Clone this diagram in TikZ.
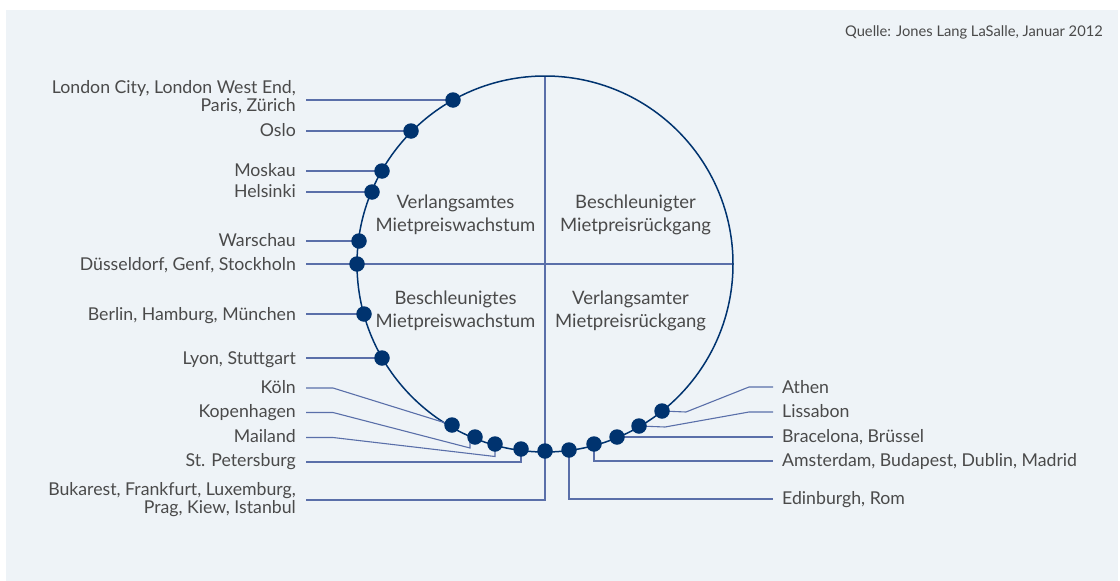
\documentclass[tikz,border=0pt]{standalone}
\usepackage{fontspec}
\setmainfont{Lato}
\definecolor{bgc}{HTML}{EEF3F7}
\definecolor{navy}{HTML}{00336F}
\definecolor{leadc}{HTML}{5A6FA9}
\definecolor{txt}{HTML}{4A4A4A}
\pgfdeclarelayer{back}
\pgfsetlayers{back,main}
\tikzset{
  city/.style={circle, fill=navy, inner sep=0pt, minimum size=15.5pt},
  lead/.style={draw=leadc, line width=1.1pt},
  ring/.style={draw=navy, line width=1.5pt},
  lbl/.style={text=txt, inner sep=0pt, font=\fontsize{17.7}{16}\selectfont},
  lbll/.style={lbl, anchor=base east, align=right},
  lblr/.style={lbl, anchor=base west, align=left},
  quad/.style={text=txt, inner sep=0pt, anchor=base, align=center, font=\fontsize{18.5}{23}\selectfont},
}
\begin{document}
\begin{tikzpicture}[x=1pt,y=-1pt]
\useasboundingbox (0,0) rectangle (1120,581);
\begin{pgfonlayer}{back}
\fill[bgc] (6,10) rectangle (1118,581);
\end{pgfonlayer}

% source
\node[text=txt, inner sep=0pt, anchor=base east, font=\fontsize{14.7}{16}\selectfont] (src) at (1103,36.5) {Quelle: Jones Lang LaSalle, Januar 2012};

% city dots
\node[city] (lon) at (453,100) {};
\node[city] (osl) at (411,131) {};
\node[city] (mos) at (382,171) {};
\node[city] (hel) at (372,192) {};
\node[city] (war) at (359,241) {};
\node[city] (due) at (357,264) {};
\node[city] (ber) at (364,314) {};
\node[city] (lyo) at (382,358) {};
\node[city] (koe) at (452,425) {};
\node[city] (kop) at (475,437) {};
\node[city] (mai) at (495,444) {};
\node[city] (stp) at (521,449) {};
\node[city] (buk) at (545,451) {};
\node[city] (edi) at (569,450) {};
\node[city] (ams) at (594,444) {};
\node[city] (bar) at (617,437) {};
\node[city] (lis) at (639,426) {};
\node[city] (ath) at (662,411) {};

% left labels
\node[lbll] (lonL) at (296,111) {London City, London West End,\\Paris, Zürich};
\node[lbll] (oslL) at (296,136.5) {Oslo};
\node[lbll] (mosL) at (296,176.5) {Moskau};
\node[lbll] (helL) at (296,197) {Helsinki};
\node[lbll] (warL) at (296,246) {Warschau};
\node[lbll] (dueL) at (296,270) {Düsseldorf, Genf, Stockholn};
\node[lbll] (berL) at (296,320) {Berlin, Hamburg, München};
\node[lbll] (lyoL) at (296,364) {Lyon, Stuttgart};
\node[lbll] (koeL) at (296,393) {Köln};
\node[lbll] (kopL) at (296,417) {Kopenhagen};
\node[lbll] (maiL) at (296,442) {Mailand};
\node[lbll] (stpL) at (296,466.5) {St. Petersburg};
\node[lbll] (bukL) at (296,513) {Bukarest, Frankfurt, Luxemburg,\\Prag, Kiew, Istanbul};

% right labels
\node[lblr] (athL) at (782,393) {Athen};
\node[lblr] (lisL) at (782,417.5) {Lissabon};
\node[lblr] (barL) at (782,442) {Bracelona, Brüssel};
\node[lblr] (amsL) at (782,466.5) {Amsterdam, Budapest, Dublin, Madrid};
\node[lblr] (ediL) at (782,504.5) {Edinburgh, Rom};

% quadrant labels
\node[quad] (q1) at (455.5,231) {Verlangsamtes\\Mietpreiswachstum};
\node[quad] (q2) at (635.5,231.5) {Beschleunigter\\Mietpreisrückgang};
\node[quad] (q3) at (455.5,327) {Beschleunigtes\\Mietpreiswachstum};
\node[quad] (q4) at (630.5,327) {Verlangsamter\\Mietpreisrückgang};

% helper coordinates
\coordinate (top) at (545,76);
\coordinate (rgt) at (733,264);
\coordinate (ctr) at (545,264);

\begin{pgfonlayer}{back}
% axes
\draw[lead] (top) -- (buk.center);
\draw[lead] (due.center) -- (rgt);
% ring
\draw[ring] (ctr) circle[radius=188];
% left leaders
\draw[lead] (306,100) -- (lon.center);
\draw[lead] (306,131) -- (osl.center);
\draw[lead] (306,171) -- (mos.center);
\draw[lead] (306,192) -- (hel.center);
\draw[lead] (306,241) -- (war.center);
\draw[lead] (306,264) -- (due.center);
\draw[lead] (306,314) -- (ber.center);
\draw[lead] (306,358) -- (lyo.center);
\draw[lead] (306,388) -- (333,388) -- (koe.center);
\draw[lead] (306,412.5) -- (333,412.5) -- (470,448) -- (470,437);
\draw[lead] (306,437.5) -- (333,437.5) -- (495,456.5) -- (mai.center);
\draw[lead] (306,462) -- (521,462) -- (stp.center);
\draw[lead] (306,500) -- (545,500) -- (buk.center);
% right leaders
\draw[lead] (ath.center) -- (686,412) -- (749,387) -- (773,387);
\draw[lead] (lis.center) -- (665,427) -- (749,412) -- (773,412);
\draw[lead] (bar.center) -- (617,437) -- (773,437);
\draw[lead] (ams.center) -- (594,461) -- (773,461);
\draw[lead] (edi.center) -- (569,499) -- (773,499);
\end{pgfonlayer}
\end{tikzpicture}
\end{document}
